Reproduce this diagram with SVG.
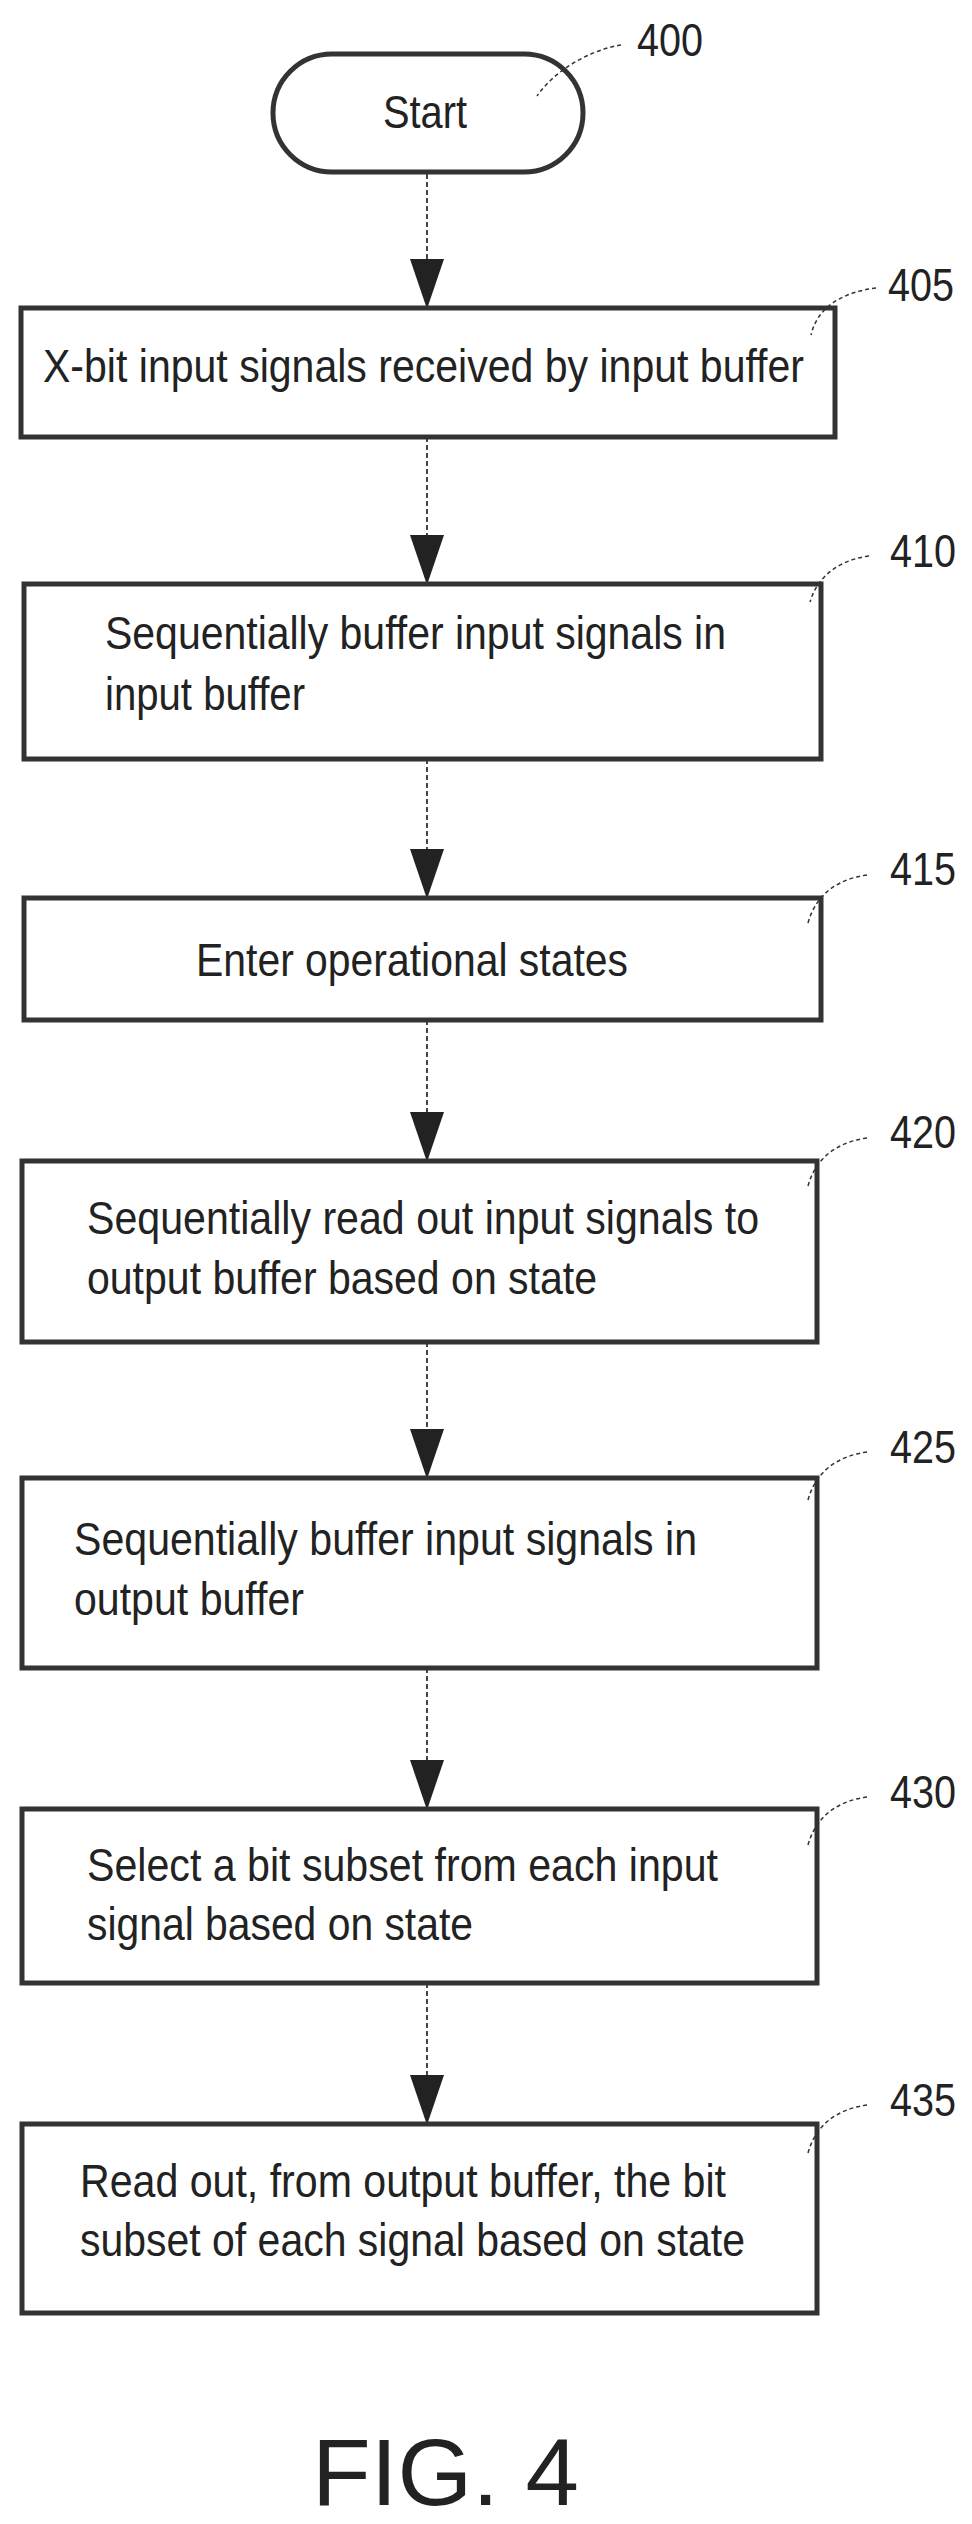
<svg xmlns="http://www.w3.org/2000/svg" width="972" height="2524" viewBox="0 0 972 2524">
<defs>
<marker id="ah" markerUnits="userSpaceOnUse" markerWidth="50" markerHeight="34" refX="49" refY="17" orient="auto" viewBox="0 0 50 34"><path d="M0,0 L50,17 L0,34 Z" fill="#222"/></marker>
</defs>
<style>
.b{fill:#fff;stroke:#333;stroke-width:5}
.t{font-family:"Liberation Sans",Arial,sans-serif;font-size:47px;fill:#222}
.l{font-family:"Liberation Sans",Arial,sans-serif;font-size:47px;fill:#222}
.ld{fill:none;stroke:#333;stroke-width:1.5;stroke-dasharray:4 3}
.c{fill:none;stroke:#333;stroke-width:1.8;stroke-dasharray:5 3}
</style>
<rect width="972" height="2524" fill="#fff"/>
<g id="connectors">
<line class="c" x1="427" y1="174" x2="427" y2="308" marker-end="url(#ah)"/>
<line class="c" x1="427" y1="437" x2="427" y2="584" marker-end="url(#ah)"/>
<line class="c" x1="427" y1="759" x2="427" y2="898" marker-end="url(#ah)"/>
<line class="c" x1="427" y1="1020" x2="427" y2="1161" marker-end="url(#ah)"/>
<line class="c" x1="427" y1="1342" x2="427" y2="1478" marker-end="url(#ah)"/>
<line class="c" x1="427" y1="1668" x2="427" y2="1809" marker-end="url(#ah)"/>
<line class="c" x1="427" y1="1983" x2="427" y2="2124" marker-end="url(#ah)"/>
</g>
<g id="n400">
<rect class="b" x="273" y="54" width="310" height="118" rx="59"/>
<text class="t" x="425" y="128" text-anchor="middle" textLength="84" lengthAdjust="spacingAndGlyphs">Start</text>
<path class="ld" d="M621,45 C590,50 555,70 537,96"/>
<text class="l" x="637" y="56" textLength="66" lengthAdjust="spacingAndGlyphs">400</text>
</g>
<g id="n405">
<rect class="b" x="21" y="308" width="814" height="129"/>
<text class="t" x="43" y="382" textLength="761" lengthAdjust="spacingAndGlyphs">X-bit input signals received by input buffer</text>
<path class="ld" d="M876,288 C845,292 818,305 811,335"/>
<text class="l" x="888" y="301" textLength="66" lengthAdjust="spacingAndGlyphs">405</text>
</g>
<g id="n410">
<rect class="b" x="24" y="584" width="797" height="175"/>
<text class="t" x="105" y="649" textLength="621" lengthAdjust="spacingAndGlyphs">Sequentially buffer input signals in</text>
<text class="t" x="105" y="710" textLength="200" lengthAdjust="spacingAndGlyphs">input buffer</text>
<path class="ld" d="M869,556 C840,560 818,575 810,602"/>
<text class="l" x="890" y="567" textLength="66" lengthAdjust="spacingAndGlyphs">410</text>
</g>
<g id="n415">
<rect class="b" x="24" y="898" width="797" height="122"/>
<text class="t" x="196" y="976" textLength="432" lengthAdjust="spacingAndGlyphs">Enter operational states</text>
<path class="ld" d="M867,875 C838,879 816,894 808,923"/>
<text class="l" x="890" y="885" textLength="66" lengthAdjust="spacingAndGlyphs">415</text>
</g>
<g id="n420">
<rect class="b" x="22" y="1161" width="795" height="181"/>
<text class="t" x="87" y="1234" textLength="672" lengthAdjust="spacingAndGlyphs">Sequentially read out input signals to</text>
<text class="t" x="87" y="1294" textLength="510" lengthAdjust="spacingAndGlyphs">output buffer based on state</text>
<path class="ld" d="M867,1138 C838,1142 816,1157 808,1186"/>
<text class="l" x="890" y="1148" textLength="66" lengthAdjust="spacingAndGlyphs">420</text>
</g>
<g id="n425">
<rect class="b" x="22" y="1478" width="795" height="190"/>
<text class="t" x="74" y="1555" textLength="623" lengthAdjust="spacingAndGlyphs">Sequentially buffer input signals in</text>
<text class="t" x="74" y="1615" textLength="230" lengthAdjust="spacingAndGlyphs">output buffer</text>
<path class="ld" d="M867,1452 C838,1456 816,1471 808,1500"/>
<text class="l" x="890" y="1463" textLength="66" lengthAdjust="spacingAndGlyphs">425</text>
</g>
<g id="n430">
<rect class="b" x="22" y="1809" width="795" height="174"/>
<text class="t" x="87" y="1881" textLength="631" lengthAdjust="spacingAndGlyphs">Select a bit subset from each input</text>
<text class="t" x="87" y="1940" textLength="386" lengthAdjust="spacingAndGlyphs">signal based on state</text>
<path class="ld" d="M867,1797 C838,1801 816,1816 808,1845"/>
<text class="l" x="890" y="1808" textLength="66" lengthAdjust="spacingAndGlyphs">430</text>
</g>
<g id="n435">
<rect class="b" x="22" y="2124" width="795" height="189"/>
<text class="t" x="80" y="2197" textLength="646" lengthAdjust="spacingAndGlyphs">Read out, from output buffer, the bit</text>
<text class="t" x="80" y="2256" textLength="665" lengthAdjust="spacingAndGlyphs">subset of each signal based on state</text>
<path class="ld" d="M867,2105 C838,2109 816,2124 808,2153"/>
<text class="l" x="890" y="2116" textLength="66" lengthAdjust="spacingAndGlyphs">435</text>
</g>
<g id="fig">
<text x="312" y="2505" font-family="Liberation Sans, Arial, sans-serif" font-size="95" fill="#222" textLength="267" lengthAdjust="spacingAndGlyphs">FIG. 4</text>
</g>
</svg>
